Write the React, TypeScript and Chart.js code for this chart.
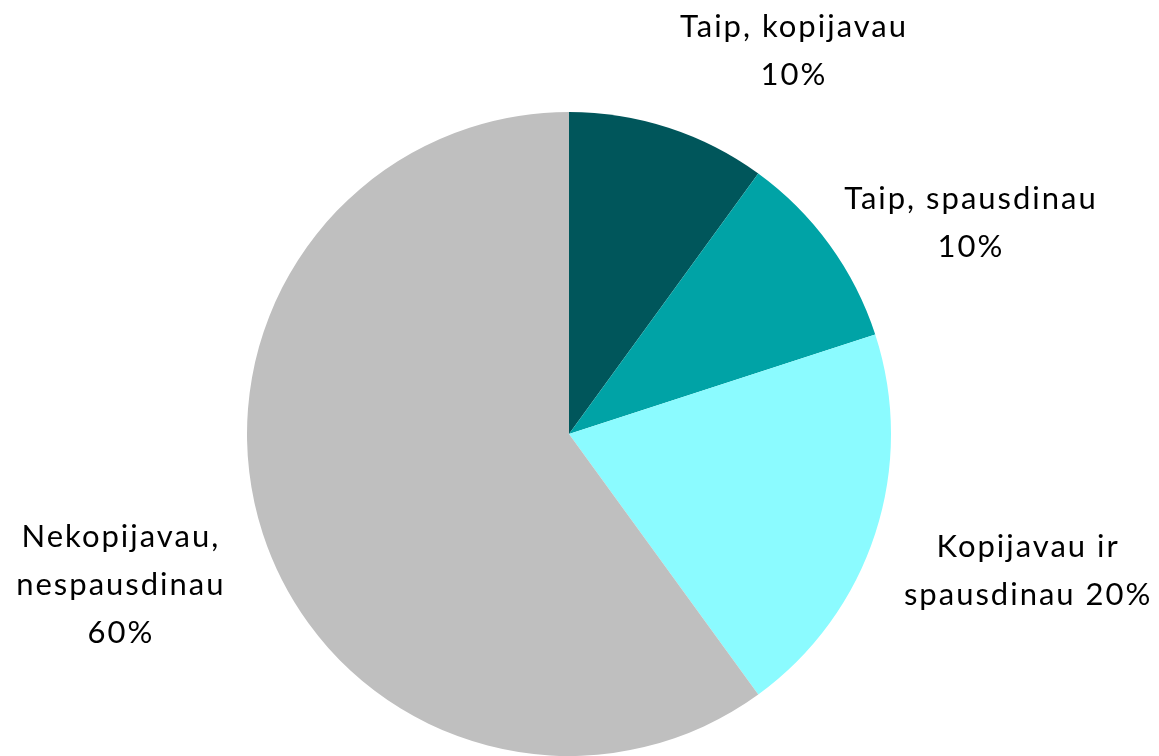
import React, { useEffect, useRef } from "react";
import { Chart, registerables } from "chart.js";

Chart.register(...registerables);

const categories: string[][] = [
  ["Taip, kopijavau", "10%"],
  ["Taip, spausdinau", "10%"],
  ["Kopijavau ir", "spausdinau 20%"],
  ["Nekopijavau,", "nespausdinau", "60%"],
];
const values = [10, 10, 20, 60];
const colors = ["#00565B", "#00A3A6", "#8BFBFF", "#BFBFBF"];

// label placement relative to each slice (angle shift in degrees, distance as multiple of radius)
const labelAngleShift = [12.2, 8.1, -1.5, -0.4];
const labelDistance = [1.383, 1.409, 1.484, 1.47];

const FONT = "Lato, 'Open Sans', sans-serif";
const FONT_SIZE = 31;
const LINE_PITCH = 48;
const CAP = 23;
const LETTER_SPACING = 2;

const labelPlugin = {
  id: "outerLabels",
  afterDatasetsDraw(chart: any) {
    const ctx = chart.ctx;
    const meta = chart.getDatasetMeta(0);
    ctx.save();
    ctx.fillStyle = "#000000";
    ctx.font = `${FONT_SIZE}px ${FONT}`;
    (ctx as any).letterSpacing = `${LETTER_SPACING}px`;
    ctx.textAlign = "center";
    ctx.textBaseline = "alphabetic";
    meta.data.forEach((arc: any, i: number) => {
      const p = arc.getProps(["x", "y", "startAngle", "endAngle", "outerRadius"], true);
      const mid = (p.startAngle + p.endAngle) / 2 + (labelAngleShift[i] * Math.PI) / 180;
      const r = p.outerRadius * labelDistance[i];
      const cx = p.x + Math.cos(mid) * r + LETTER_SPACING / 2;
      const cy = p.y + Math.sin(mid) * r;
      const lines = categories[i];
      const first = cy - ((lines.length - 1) * LINE_PITCH) / 2 + CAP / 2;
      lines.forEach((line, j) => {
        ctx.fillText(line, cx, first + j * LINE_PITCH);
      });
    });
    ctx.restore();
  },
};

export default function App() {
  const ref = useRef<HTMLCanvasElement | null>(null);
  useEffect(() => {
    document.body.style.margin = "0";
    const canvas = ref.current;
    if (!canvas) return;
    const chart = new Chart(canvas, {
      type: "pie",
      data: {
        labels: categories.map((c) => c.join(" ")),
        datasets: [
          {
            data: values,
            backgroundColor: colors,
            borderWidth: 0,
          },
        ],
      },
      options: {
        animation: false,
        responsive: false,
        layout: { padding: { top: 112, bottom: 0, left: 247, right: 268 } },
        plugins: {
          legend: { display: false },
          tooltip: { enabled: false },
        },
      },
      plugins: [labelPlugin],
    });
    return () => chart.destroy();
  }, []);
  return (
    <div style={{ width: 1159, height: 756 }}>
      <canvas ref={ref} width={1159} height={756} style={{ display: "block" }} />
    </div>
  );
}
